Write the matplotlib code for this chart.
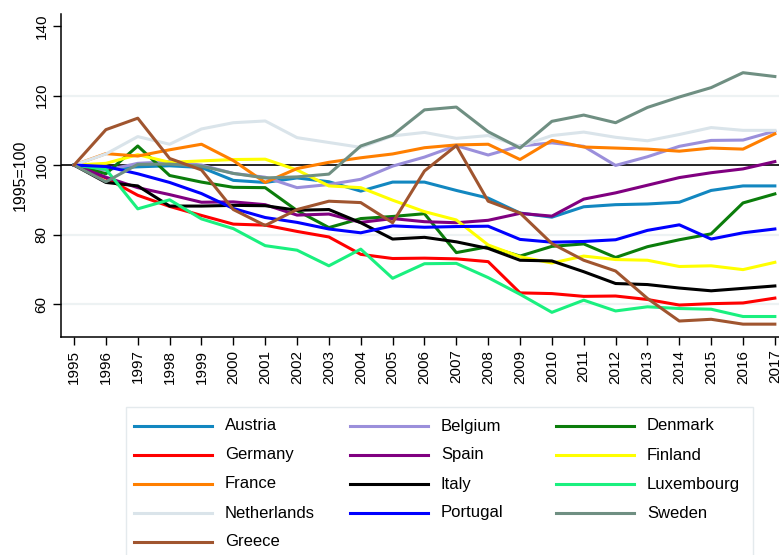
import matplotlib.pyplot as plt
from matplotlib.lines import Line2D
from matplotlib.patches import Rectangle

plt.rcParams['font.family'] = ['Liberation Sans', 'DejaVu Sans']

years = list(range(1995, 2018))

austria = [100, 99.0, 99.5, 99.8, 99.3, 95.6, 95.0, 96.3, 95.2, 92.5, 95.1, 95.1, 92.7,
           90.5, 86.2, 85.0, 88.0, 88.6, 88.8, 89.3, 92.7, 94.0, 94.0]
belgium = [100, 98.5, 100.5, 101.0, 100.0, 97.6, 96.5, 93.5, 94.4, 95.9, 99.7, 102.3, 105.6,
           102.9, 105.5, 106.4, 105.4, 99.9, 102.4, 105.4, 107.1, 107.2, 109.8]
denmark = [100, 97.5, 105.5, 97.0, 95.1, 93.6, 93.5, 86.9, 82.0, 84.6, 85.2, 86.0, 74.8,
           76.5, 73.8, 76.6, 77.3, 73.4, 76.5, 78.5, 80.2, 89.1, 91.7]
germany = [100, 96.3, 91.3, 88.1, 85.5, 83.0, 82.7, 80.9, 79.3, 74.3, 73.1, 73.2, 73.0,
           72.2, 63.2, 63.0, 62.2, 62.3, 61.3, 59.7, 60.1, 60.3, 61.7]
spain = [100, 96.5, 93.5, 91.5, 89.3, 89.4, 88.6, 85.6, 85.9, 83.5, 84.6, 83.7, 83.4,
         84.1, 86.1, 85.3, 90.2, 92.0, 94.2, 96.4, 97.8, 98.9, 101.0]
finland = [100, 100.5, 103.0, 100.8, 101.2, 101.6, 101.7, 98.6, 94.0, 93.5, 89.9, 86.6, 84.2,
           77.0, 73.6, 71.8, 73.8, 72.8, 72.6, 70.8, 71.0, 69.9, 72.0]
france = [100, 103.3, 102.6, 104.4, 106.0, 101.3, 95.0, 99.0, 100.8, 102.1, 103.2, 105.0, 105.8,
          106.0, 101.6, 107.1, 105.2, 104.9, 104.6, 104.0, 104.9, 104.6, 109.0]
italy = [100, 95.0, 94.0, 88.2, 88.2, 88.4, 88.3, 87.0, 87.2, 83.4, 78.7, 79.2, 77.9,
         76.0, 72.6, 72.4, 69.3, 65.9, 65.6, 64.6, 63.8, 64.5, 65.2]
luxembourg = [100, 98.8, 87.4, 90.0, 84.5, 81.7, 76.8, 75.5, 71.0, 75.8, 67.4, 71.6, 71.7,
              67.6, 62.8, 57.6, 61.1, 58.0, 59.2, 58.7, 58.5, 56.4, 56.4]
netherlands = [100, 103.2, 108.2, 106.0, 110.4, 112.2, 112.7, 107.9, 106.5, 105.1, 108.4, 109.4, 107.7,
               108.5, 105.4, 108.5, 109.5, 108.0, 107.0, 108.8, 110.8, 110.0, 110.0]
portugal = [100, 99.6, 97.5, 95.0, 91.8, 87.5, 84.9, 83.5, 81.6, 80.5, 82.5, 82.1, 82.3,
            82.4, 78.6, 77.8, 78.0, 78.5, 81.2, 82.8, 78.7, 80.5, 81.6]
sweden = [100, 95.2, 100.2, 100.3, 99.7, 97.6, 96.3, 96.6, 97.4, 105.5, 108.6, 115.9, 116.7,
          109.6, 104.9, 112.6, 114.4, 112.2, 116.6, 119.6, 122.3, 126.6, 125.5]
greece = [100, 110.2, 113.5, 101.9, 98.6, 87.2, 82.6, 87.2, 89.6, 89.2, 83.4, 98.3, 105.6,
          89.6, 86.2, 77.4, 72.6, 69.5, 61.6, 55.1, 55.6, 54.2, 54.2]

countries = ['Austria', 'Belgium', 'Denmark', 'Germany', 'Spain', 'Finland', 'France',
             'Italy', 'Luxembourg', 'Netherlands', 'Portugal', 'Sweden', 'Greece']
series = [austria, belgium, denmark, germany, spain, finland, france,
          italy, luxembourg, netherlands, portugal, sweden, greece]
colors = ['#1287c0', '#9b8fdb', '#0b7d0b', '#ff0000', '#800080', '#ffff00', '#ff7f00',
          '#000000', '#1af07f', '#dae4ea', '#0000ff', '#6f8f82', '#a0552f']

W, H = 779, 555
fig = plt.figure(figsize=(W / 100, H / 100), dpi=100)
ax = fig.add_axes([61 / W, 1 - 337 / H, (W - 61) / W, (337 - 14) / H])

# light gridlines and the 1995 baseline
for g in [60, 80, 120]:
    ax.axhline(g, color='#edf2f3', lw=1.6, zorder=1)
ax.axhline(100, color='black', lw=1.2, zorder=2)

for name, vals, col in zip(countries, series, colors):
    ax.plot(years, vals, color=col, lw=2.2, zorder=3, label=name)

ax.set_xlim(1994.59, 2017.13)
ax.set_ylim(50.5, 143.5)
ax.set_xticks(years)
ax.set_xticklabels([str(y) for y in years], rotation=90, fontsize=11)
ax.set_yticks([60, 80, 100, 120, 140])
ax.set_yticklabels(['60', '80', '100', '120', '140'], rotation=90, va='center', fontsize=11)
ax.tick_params(length=6, width=1, color='black', pad=3)
ax.set_ylabel('1995=100', fontsize=11.5, labelpad=5)

ax.spines['top'].set_visible(False)
ax.spines['right'].set_visible(False)
for s in ['left', 'bottom']:
    ax.spines[s].set_linewidth(1.1)


def px(x, y):
    return x / W, 1 - y / H


# legend box laid out in three columns, read row by row
box_x0, box_y0, box_x1 = 126, 407, 753
fig.add_artist(Rectangle(px(box_x0, H + 5), (box_x1 - box_x0) / W, (H + 5 - box_y0) / H,
                         transform=fig.transFigure, facecolor='white',
                         edgecolor='#e4eaed', lw=1.0))
col_x = [134, 350, 556]
row_y0, row_step = 426, 29
for i, (name, col) in enumerate(zip(countries, colors)):
    r, c = divmod(i, 3)
    x0 = col_x[c]
    y = row_y0 + r * row_step
    fig.add_artist(Line2D([x0 / W, (x0 + 78) / W], [1 - y / H] * 2,
                          transform=fig.transFigure, color=col, lw=2.2))
    fig.text((x0 + 91) / W, 1 - y / H, name, fontsize=12, va='center', ha='left')

fig.savefig('out.png', dpi=100)
